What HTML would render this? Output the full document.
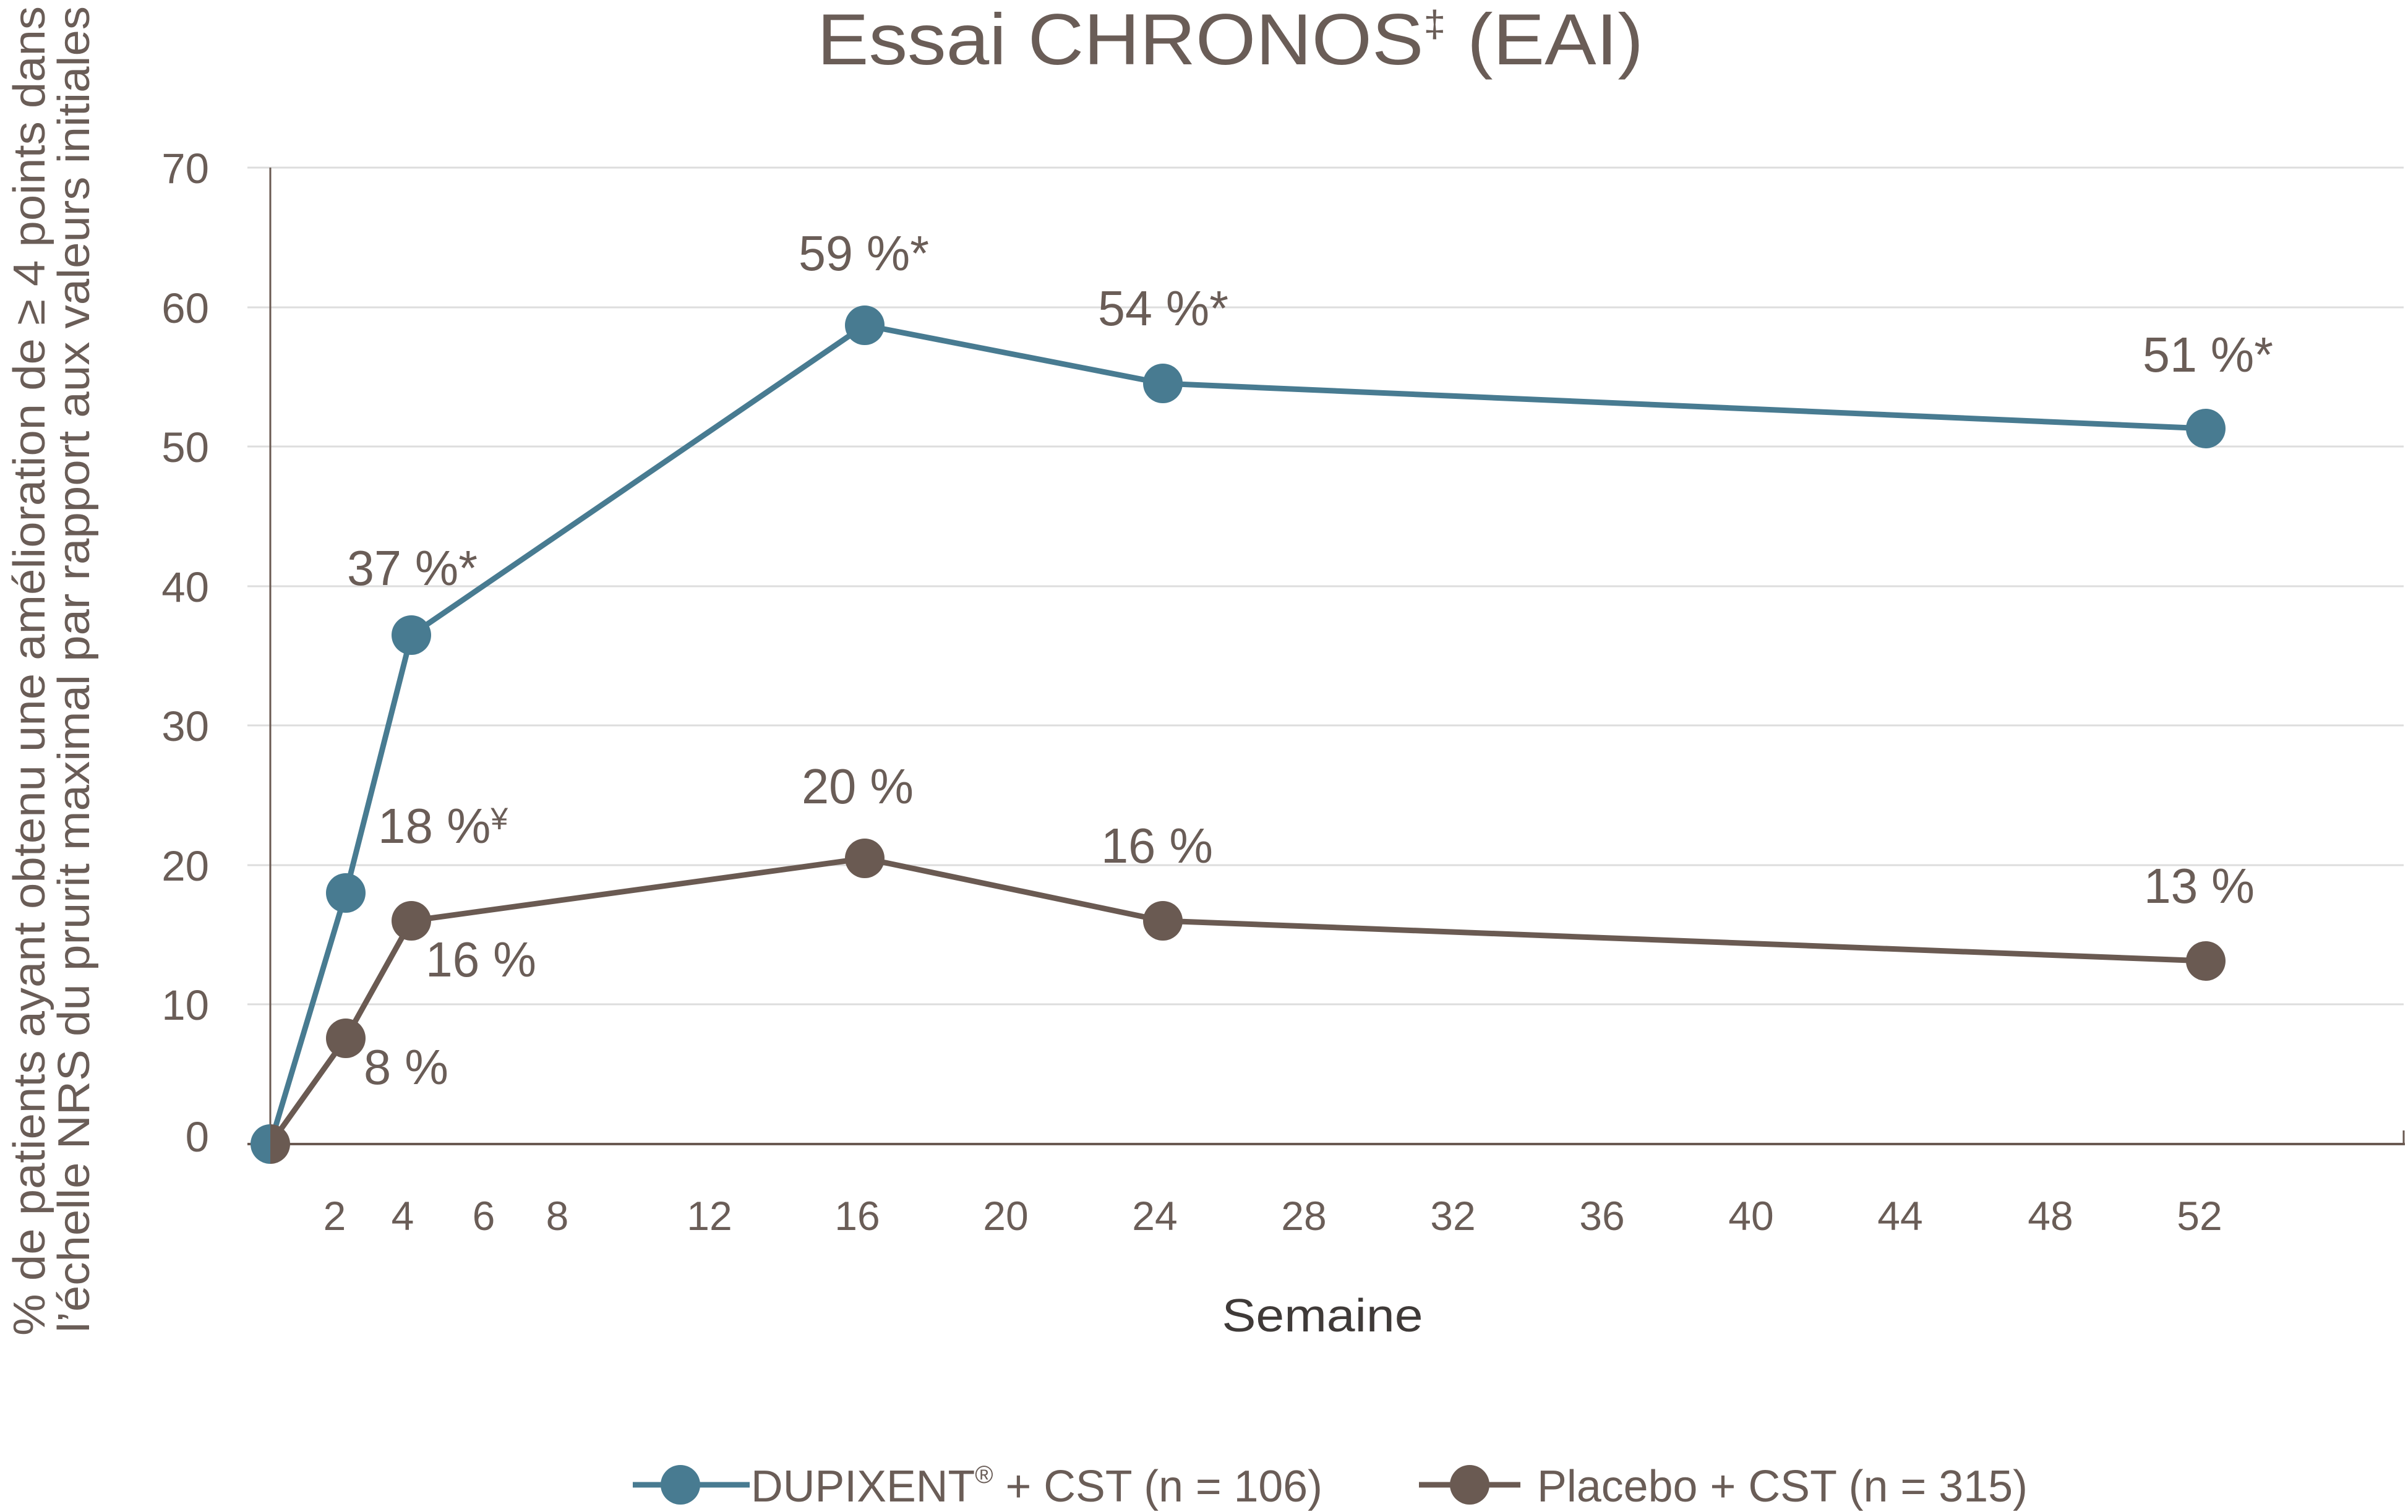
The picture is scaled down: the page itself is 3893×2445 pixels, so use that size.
<!DOCTYPE html>
<html><head><meta charset="utf-8"><style>html,body{margin:0;padding:0;background:#fff}svg{display:block}</style></head><body>
<svg width="3893" height="2445" viewBox="0 0 3893 2445" xmlns="http://www.w3.org/2000/svg" font-family="Liberation Sans, sans-serif" fill="#6a5d57">
<g stroke="#dddddd" stroke-width="3">
<line x1="400" y1="271" x2="3886" y2="271"/><line x1="400" y1="497" x2="3886" y2="497"/><line x1="400" y1="722" x2="3886" y2="722"/><line x1="400" y1="948" x2="3886" y2="948"/><line x1="400" y1="1173" x2="3886" y2="1173"/><line x1="400" y1="1399" x2="3886" y2="1399"/><line x1="400" y1="1624" x2="3886" y2="1624"/>
</g>
<g stroke="#6a5a52">
<line x1="437" y1="271" x2="437" y2="1850" stroke-width="3"/>
<line x1="400" y1="1850" x2="3888" y2="1850" stroke-width="4"/>
<line x1="3886" y1="1828" x2="3886" y2="1850" stroke-width="3"/>
</g>
<text x="1321" y="104" font-size="117" textLength="1336" lengthAdjust="spacingAndGlyphs">Essai CHRONOS<tspan font-size="60" dy="-45">‡</tspan><tspan dy="45"> (EAI)</tspan></text>
<g font-size="69" text-anchor="end">
<text x="338" y="296">70</text><text x="338" y="522">60</text><text x="338" y="747">50</text><text x="338" y="973">40</text><text x="338" y="1198">30</text><text x="338" y="1424">20</text><text x="338" y="1649">10</text><text x="338" y="1862">0</text>
</g>
<g font-size="66" text-anchor="middle">
<text x="541" y="1989">2</text><text x="651" y="1989">4</text><text x="782" y="1989">6</text><text x="901" y="1989">8</text><text x="1147" y="1989">12</text><text x="1386" y="1989">16</text><text x="1626" y="1989">20</text><text x="1867" y="1989">24</text><text x="2108" y="1989">28</text><text x="2349" y="1989">32</text><text x="2590" y="1989">36</text><text x="2831" y="1989">40</text><text x="3072" y="1989">44</text><text x="3315" y="1989">48</text><text x="3556" y="1989">52</text>
</g>
<text x="2138" y="2153" font-size="75" text-anchor="middle" fill="#3f3a38" textLength="325" lengthAdjust="spacingAndGlyphs">Semaine</text>
<text transform="translate(72,2160) rotate(-90)" font-size="72" textLength="2150" lengthAdjust="spacingAndGlyphs">% de patients ayant obtenu une amélioration de ≥ 4 points dans</text>
<text transform="translate(144,2155) rotate(-90)" font-size="72" textLength="2145" lengthAdjust="spacingAndGlyphs">l’échelle NRS du prurit maximal par rapport aux valeurs initiales</text>
<polyline points="437,1850 559,1679 665,1489 1398,1388 1880,1489 3566,1554" fill="none" stroke="#6a5a52" stroke-width="9" stroke-linejoin="round"/>
<polyline points="437,1850 559,1444 665,1027 1398,526 1880,620 3566,693" fill="none" stroke="#487b91" stroke-width="9" stroke-linejoin="round"/>
<g fill="#487b91"><circle cx="559" cy="1444" r="32"/><circle cx="665" cy="1027" r="32"/><circle cx="1398" cy="526" r="32"/><circle cx="1880" cy="620" r="32"/><circle cx="3566" cy="693" r="32"/></g>
<g fill="#6a5a52"><circle cx="559" cy="1679" r="32"/><circle cx="665" cy="1489" r="32"/><circle cx="1398" cy="1388" r="32"/><circle cx="1880" cy="1489" r="32"/><circle cx="3566" cy="1554" r="32"/></g>
<path d="M437,1818 A32,32 0 0 0 437,1882 Z" fill="#487b91"/><path d="M437,1818 A32,32 0 0 1 437,1882 Z" fill="#6a5a52"/>
<g font-size="80">
<text x="1291" y="437" textLength="211" lengthAdjust="spacingAndGlyphs">59 %*</text>
<text x="1775" y="526" textLength="211" lengthAdjust="spacingAndGlyphs">54 %*</text>
<text x="3464" y="601" textLength="211" lengthAdjust="spacingAndGlyphs">51 %*</text>
<text x="561" y="946" textLength="211" lengthAdjust="spacingAndGlyphs">37 %*</text>
<text x="611" y="1363">18 %<tspan font-size="50" dy="-22">¥</tspan></text>
<text x="1296" y="1299" textLength="181" lengthAdjust="spacingAndGlyphs">20 %</text>
<text x="1780" y="1395" textLength="181" lengthAdjust="spacingAndGlyphs">16 %</text>
<text x="3466" y="1460" textLength="179" lengthAdjust="spacingAndGlyphs">13 %</text>
<text x="688" y="1579" textLength="179" lengthAdjust="spacingAndGlyphs">16 %</text>
<text x="588" y="1753" textLength="137" lengthAdjust="spacingAndGlyphs">8 %</text>
</g>
<line x1="1023" y1="2401" x2="1212" y2="2401" stroke="#487b91" stroke-width="9"/><circle cx="1100" cy="2401" r="32" fill="#487b91"/>
<line x1="2294" y1="2401" x2="2458" y2="2401" stroke="#6a5a52" stroke-width="9"/><circle cx="2376" cy="2401" r="32" fill="#6a5a52"/>
<text x="1214" y="2428" font-size="72" textLength="924" lengthAdjust="spacingAndGlyphs">DUPIXENT<tspan font-size="40" dy="-30">®</tspan><tspan dy="30"> + CST (n = 106)</tspan></text>
<text x="2485" y="2428" font-size="72" textLength="793" lengthAdjust="spacingAndGlyphs">Placebo + CST (n = 315)</text>
</svg>
</body></html>
